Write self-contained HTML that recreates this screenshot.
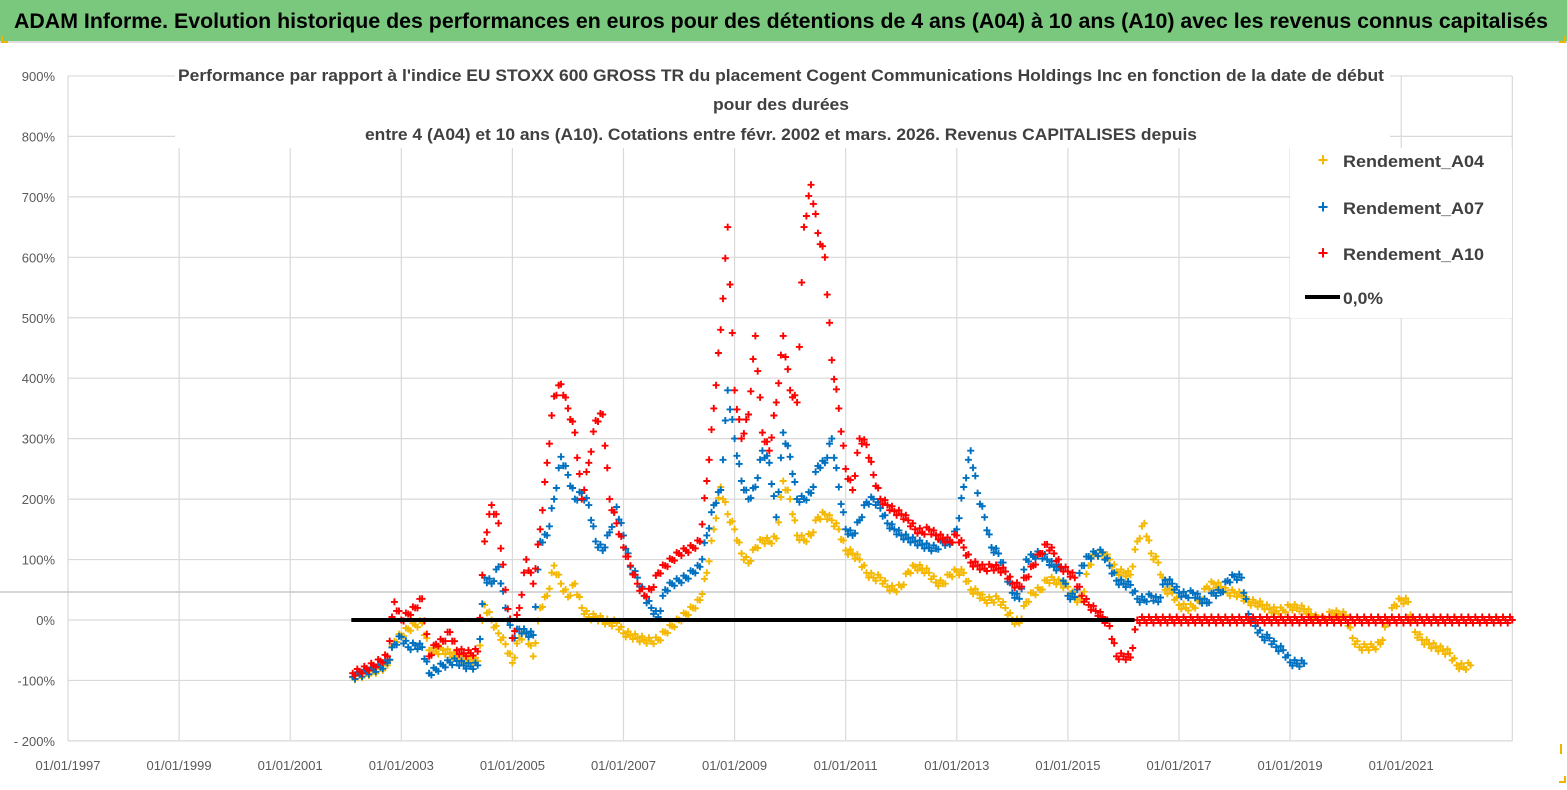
<!DOCTYPE html>
<html><head><meta charset="utf-8"><style>
html,body{margin:0;padding:0;background:#fff;width:1567px;height:790px;overflow:hidden}
svg{display:block;font-family:"Liberation Sans",sans-serif}
</style></head><body>
<svg id="chart" width="1567" height="790" viewBox="0 0 1567 790" xmlns="http://www.w3.org/2000/svg">
<rect x="0" y="0" width="1567" height="790" fill="#fff"/>
<g>
<rect x="0" y="0" width="1567" height="41" fill="#7ac77e"/>
<line x1="0" y1="42" x2="1567" y2="42" stroke="#bbb" stroke-width="1"/>
<text x="14" y="28" font-size="21" font-weight="bold" fill="#000" textLength="1534" lengthAdjust="spacingAndGlyphs">ADAM Informe. Evolution historique des performances en euros pour des détentions de 4 ans (A04) à 10 ans (A10) avec les revenus connus capitalisés</text>
<path d="M2 36 v6 h6 M1559 42 h6 v-6 M1561 744 v10 M1559 782 h6 v-6" stroke="#f0b400" stroke-width="2" fill="none"/>
</g>
<g id="grid"></g>
<line x1="0" y1="592" x2="1512" y2="592" stroke="#c8c8c8" stroke-width="1.5"/>
<g id="yticks"></g>
<g id="xticks"></g>
<g id="series"></g>
<g>
<rect x="175" y="58" width="1215" height="90" fill="#fff"/>
<text x="178" y="81" font-size="17" font-weight="bold" fill="#404040" textLength="1206" lengthAdjust="spacingAndGlyphs">Performance par rapport à l'indice EU STOXX 600 GROSS TR  du placement Cogent Communications Holdings Inc en fonction de la date de début</text>
<text x="781" y="110" font-size="17" font-weight="bold" fill="#404040" text-anchor="middle" textLength="136" lengthAdjust="spacingAndGlyphs">pour des durées</text>
<text x="365" y="140" font-size="17" font-weight="bold" fill="#404040" textLength="832" lengthAdjust="spacingAndGlyphs">entre 4 (A04) et 10 ans (A10). Cotations entre févr. 2002 et mars. 2026. Revenus CAPITALISES depuis</text>
</g>
<g>
<rect x="1290" y="148" width="222" height="170" fill="#fff"/>
<g><text x="1323" y="166" font-size="18" font-weight="bold" fill="#f5b800" text-anchor="middle">+</text><text x="1343" y="167" font-size="17" font-weight="bold" fill="#404040" textLength="141" lengthAdjust="spacingAndGlyphs">Rendement_A04</text></g>
<g><text x="1323" y="213" font-size="18" font-weight="bold" fill="#0070c0" text-anchor="middle">+</text><text x="1343" y="214" font-size="17" font-weight="bold" fill="#404040" textLength="141" lengthAdjust="spacingAndGlyphs">Rendement_A07</text></g>
<g><text x="1323" y="259" font-size="18" font-weight="bold" fill="#ff0000" text-anchor="middle">+</text><text x="1343" y="260" font-size="17" font-weight="bold" fill="#404040" textLength="141" lengthAdjust="spacingAndGlyphs">Rendement_A10</text></g>
<g><line x1="1305" y1="297" x2="1340" y2="297" stroke="#000" stroke-width="4"/><text x="1343" y="304" font-size="17" font-weight="bold" fill="#404040" textLength="40" lengthAdjust="spacingAndGlyphs">0,0%</text></g>
</g>
</svg>
<script>
const yTicks=[900,800,700,600,500,400,300,200,100,0,-100,-200];
const yTickLabels=["900%","800%","700%","600%","500%","400%","300%","200%","100%","0%","-100%","- 200%"];
const xTickYears=[1997,1999,2001,2003,2005,2007,2009,2011,2013,2015,2017,2019,2021];
const xTickLabels=["01/01/1997","01/01/1999","01/01/2001","01/01/2003","01/01/2005","01/01/2007","01/01/2009","01/01/2011","01/01/2013","01/01/2015","01/01/2017","01/01/2019","01/01/2021"];
const seriesStart=2002.125;
const seriesStep=0.125;
const a04=[-95,-92,-88,-85,-80,-75,-35,-25,-15,-8,-5,-50,-52,-50,-55,-60,-65,-66,-68,25,0,-22,-40,-71,-30,-22,-60,20,40,90,60,38,60,20,5,5,0,-5,-5,-22,-25,-30,-33,-35,-33,-20,-10,0,10,20,33,78,150,220,175,150,110,94,120,132,130,135,230,200,140,132,140,170,175,165,150,115,110,100,78,70,70,55,50,55,80,88,85,78,62,60,75,80,78,50,45,33,33,35,20,0,-5,30,45,50,66,66,60,55,35,33,90,110,110,100,80,78,75,130,160,110,95,50,45,25,20,22,30,55,60,55,45,45,40,30,28,25,18,15,16,22,20,18,10,0,2,12,10,8,-30,-45,-45,-45,-40,-5,25,33,30,-20,-33,-40,-45,-50,-55,-75,-78,-75];
const a07=[-94,-90,-86,-82,-78,-71,-40,-28,-45,-42,-45,-88,-82,-75,-70,-68,-75,-77,-75,70,60,88,20,-30,-15,-22,-25,130,140,200,270,240,200,210,190,130,115,145,187,140,88,70,40,20,5,50,60,65,70,80,88,140,190,215,380,300,230,200,220,280,260,170,310,270,200,200,210,255,260,300,220,150,140,165,195,200,185,160,150,140,135,130,125,120,118,130,125,150,220,280,210,170,120,110,80,45,35,100,105,110,100,88,85,40,38,90,105,110,112,90,65,60,58,35,33,40,30,66,60,45,40,45,35,28,45,45,65,72,70,10,-10,-28,-30,-45,-50,-70,-72,-72];
const a10=[-88,-85,-80,-75,-68,-60,30,0,10,20,35,-60,-40,-35,-20,-50,-55,-55,-52,130,190,160,50,-30,20,100,60,150,260,370,390,350,310,200,260,330,340,200,160,120,90,60,40,50,78,90,100,110,115,120,130,230,350,480,650,380,300,340,470,310,280,360,470,380,360,650,720,640,600,430,350,250,215,300,290,240,200,190,180,175,165,150,145,150,140,135,130,140,120,95,90,85,88,85,80,60,55,70,90,110,125,110,88,80,70,40,25,15,5,-10,-60,-60,-62,0,0,0,0,0,0,0,0,0,0,0,0,0,0,0,0,0,0,0,0,0,0,0,0,0,0,0,0,0,0,0,0,0,0,0,0,0,0,0,0,0,0,0,0,0,0,0,0,0,0,0,0,0,0,0];
const zeroLineStart=2002.1;
const zeroLineEnd=2016.2;

const NS="http://www.w3.org/2000/svg";
function xScale(yr){return 68+(yr-1997)*55.55;}
function yScale(v){return 620-v*0.6045;}
function mk(tag,attrs,parent){const e=document.createElementNS(NS,tag);for(const k in attrs)e.setAttribute(k,attrs[k]);parent.appendChild(e);return e;}
const grid=document.getElementById('grid');
const yt=document.getElementById('yticks');
const xt=document.getElementById('xticks');
yTicks.forEach((v,i)=>{
  const l=mk('line',{x1:68,x2:1512,y1:yScale(v),y2:yScale(v),stroke:'#d9d9d9','stroke-width':1.2},grid);
  
  
  const t=mk('text',{x:55,y:yScale(v)+5,'font-size':13,fill:'#595959','text-anchor':'end'},yt);
  
  
  t.textContent=yTickLabels[i];
});
xTickYears.forEach((yr,i)=>{
  const l=mk('line',{x1:xScale(yr),x2:xScale(yr),y1:yScale(900),y2:yScale(-200),stroke:'#d9d9d9','stroke-width':1.2},grid);
  
  
  const t=mk('text',{x:xScale(yr),y:770,'font-size':13,fill:'#595959','text-anchor':'middle'},xt);
  
  
  t.textContent=xTickLabels[i];
});
const edge=mk('line',{x1:xScale(2023),x2:xScale(2023),y1:yScale(900),y2:yScale(-200),stroke:'#d9d9d9','stroke-width':1.2},grid);


const sg=document.getElementById('series');
function cross(x,y){return `M${(x-3.5).toFixed(1)} ${y.toFixed(1)}h7M${x.toFixed(1)} ${(y-3.5).toFixed(1)}v7`;}
function drawSeries(vals,color,name){
  const g=mk('g',{},sg);
  
  
  let d='';
  const dx=seriesStep*55.55/3;
  vals.forEach((v,i)=>{
    const x=xScale(seriesStart+i*seriesStep),y=yScale(v);
    d+=cross(x,y);
    if(i+1<vals.length){
      const y2=yScale(vals[i+1]);
      d+=cross(x+dx,y+(y2-y)/3+3)+cross(x+2*dx,y+2*(y2-y)/3-3);
    }
  });
  mk('path',{d:d,stroke:color,'stroke-width':1.9,fill:'none'},g);
}
drawSeries(a04,'#f5b800','series-a04');
drawSeries(a07,'#0070c0','series-a07');
drawSeries(a10,'#ff0000','series-a10');
const zl=mk('line',{x1:xScale(zeroLineStart),x2:xScale(zeroLineEnd),y1:yScale(0),y2:yScale(0),stroke:'#000','stroke-width':4},sg);


</script>
</body></html>
